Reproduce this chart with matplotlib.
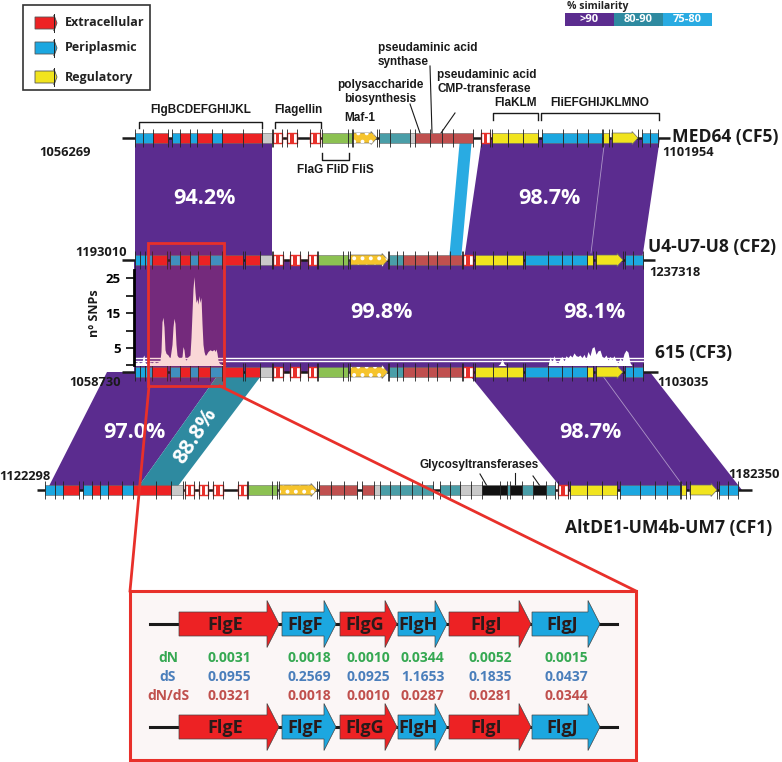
"""Flagellar gene cluster comparison between four clonal frames (CF1-CF5)."""
import matplotlib
matplotlib.use("Agg")
import matplotlib.pyplot as plt
from matplotlib.patches import Rectangle, Polygon

plt.rcParams["hatch.linewidth"] = 1.6

W, H = 782, 762

# Gene colours by class.
COL = {"E": "#ed2224", "P": "#1ca7e0", "R": "#f1e41e", "Y": "#f1e41e",
       "G": "#c9c9c9", "S": "#8cc152", "M": "#f6c42c", "T": "#4a9ea8",
       "B": "#c0504f", "K": "#111111"}
SIM = {">90": "#5b2c8f", "80-90": "#2e8aa0", "75-80": "#29abe2"}
RED = "#e8302a"

LAB = ["Open Sans", "DejaVu Sans"]
NAR = ["Liberation Sans Narrow", "Liberation Sans", "DejaVu Sans"]

# ---- data: genes per track (start, end, class) ----
MED64 = [(135, 143, "P"), (143, 153, "P"), (153, 168, "E"), (172, 180, "P"), (180, 190, "E"),
         (190, 197, "P"), (197, 212, "E"), (212, 222, "P"), (222, 243, "E"), (243, 262, "E"),
         (262, 272, "G"), (273, 282, "F"), (287, 297, "F"), (310, 320, "F"), (322, 348, "S"),
         (348, 352, "S"), (353, 377, "M"), (379, 390, "T"), (390, 410, "T"), (410, 415, "G"),
         (415, 430, "B"), (430, 442, "B"), (442, 453, "B"), (453, 473, "B"), (481, 490, "F"),
         (492, 508, "R"), (508, 523, "R"), (523, 538, "R"), (542, 563, "P"), (563, 577, "P"),
         (577, 588, "P"), (588, 602, "P"), (603, 609, "R"), (612, 638, "Y"), (642, 650, "P"),
         (650, 658, "P")]
U4 = [(135, 140, "P"), (140, 145, "P"), (145, 152, "P"), (152, 167, "E"), (170, 180, "P"),
      (180, 190, "E"), (190, 198, "P"), (198, 210, "E"), (210, 222, "P"), (222, 243, "E"),
      (245, 260, "E"), (260, 272, "G"), (273, 283, "F"), (290, 300, "F"), (308, 317, "F"),
      (318, 343, "S"), (343, 348, "S"), (350, 388, "M"), (389, 397, "T"), (397, 403, "T"),
      (403, 415, "B"), (415, 428, "B"), (428, 437, "B"), (437, 450, "B"), (450, 462, "B"),
      (463, 473, "F"), (475, 493, "R"), (493, 507, "R"), (507, 523, "R"), (525, 548, "P"),
      (548, 562, "P"), (562, 572, "P"), (572, 587, "P"), (587, 593, "R"), (596, 623, "Y"),
      (625, 633, "P"), (633, 643, "P")]
CF3 = list(U4)
ALT = [(45, 55, "P"), (55, 63, "P"), (63, 79, "E"), (83, 92, "P"), (92, 100, "E"), (100, 108, "P"),
       (108, 122, "E"), (122, 133, "P"), (133, 156, "E"), (156, 171, "E"), (171, 183, "G"),
       (185, 194, "F"), (199, 208, "F"), (213, 223, "F"), (238, 247, "F"), (248, 272, "S"),
       (272, 277, "S"), (279, 317, "M"), (319, 331, "B"), (331, 344, "B"), (344, 357, "B"),
       (362, 374, "B"), (374, 380, "G"), (380, 390, "T"), (390, 400, "T"), (400, 412, "T"),
       (412, 422, "T"), (422, 433, "T"), (440, 450, "T"), (450, 460, "T"), (460, 471, "G"),
       (471, 482, "G"), (482, 500, "K"), (500, 507, "K"), (507, 510, "T"), (510, 522, "K"),
       (522, 533, "T"), (533, 546, "K"), (546, 555, "T"), (558, 568, "F"), (570, 587, "R"),
       (587, 602, "R"), (602, 617, "R"), (620, 640, "P"), (640, 655, "P"), (655, 667, "P"),
       (667, 680, "P"), (681, 686, "R"), (690, 717, "Y"), (719, 728, "P"), (728, 738, "P")]

# ---- data: SNP counts along CF2/CF3 alignment ----
SNP_X = [134, 136, 138, 140, 142, 143, 144, 145, 146, 148, 150, 152, 154, 156, 158, 160, 161,
         162, 163, 164, 165, 166, 168, 170, 171, 172, 173, 174, 175, 176, 177, 178, 180, 182,
         183, 184, 185, 186, 188, 190, 191, 192, 193, 194, 195, 196, 197, 198, 199, 200, 201,
         202, 203, 204, 205, 206, 208, 210, 212, 214, 215, 216, 217, 218, 219, 220, 222, 224,
         226, 498, 500, 502, 504, 506, 548, 550, 552, 554, 556, 558, 560, 562, 564, 566, 568,
         570, 572, 574, 576, 578, 580, 582, 584, 586, 588, 590, 592, 594, 596, 598, 600, 602,
         604, 606, 608, 610, 612, 614, 616, 618, 620, 622, 624, 626, 628, 630, 632]
SNP_N = [1.0, 0.8, 1.2, 0.8, 1.0, 2.5, 3.0, 1.0, 0.6, 0.8, 1.0, 0.8, 1.2, 0.8, 1.0, 1.5, 4.0,
         12.5, 13.8, 11.0, 4.5, 3.5, 3.0, 2.0, 4.0, 6.0, 11.0, 13.5, 12.0, 6.0, 3.0, 2.5, 2.0, 2.5,
         5.4, 4.5, 2.0, 1.5, 2.5, 3.0, 8.0, 15.0, 22.0, 25.4, 21.0, 18.0, 19.0, 17.5, 20.0, 18.0,
         19.5, 12.0, 6.0, 4.0, 3.0, 3.0, 4.0, 4.5, 4.2, 4.6, 4.0, 4.7, 3.5, 1.5, 0.8, 0.5, 0.3,
         0.2, 0.0, 0.0, 0.5, 1.8, 0.5, 0.0, 0.0, 2.5, 1.0, 2.8, 1.0, 0.8, 2.0, 2.6, 1.2, 2.8, 2.2,
         3.0, 2.4, 3.6, 2.8, 2.6, 3.0, 2.2, 3.2, 1.8, 4.0, 2.8, 5.0, 5.4, 3.2, 4.2, 4.4, 2.6,
         2.2, 3.0, 1.6, 2.6, 1.8, 2.8, 1.4, 0.8, 2.2, 1.2, 3.4, 4.4, 3.8, 0.8, 0.0]

# ---- data: inset FlgE-FlgJ selection values ----
INSET_NAMES = ["FlgE", "FlgF", "FlgG", "FlgH", "FlgI", "FlgJ"]
INSET_START = [179, 282, 340, 398, 449, 532]
INSET_END = [279, 336, 397, 447, 531, 600]
INSET_KIND = ["E", "P", "E", "P", "E", "P"]
DN = [0.0031, 0.0018, 0.0010, 0.0344, 0.0052, 0.0015]
DS = [0.0955, 0.2569, 0.0925, 1.1653, 0.1835, 0.0437]
DNDS = [0.0321, 0.0018, 0.0010, 0.0287, 0.0281, 0.0344]

fig = plt.figure(figsize=(W / 100, H / 100), dpi=100)
ax = fig.add_axes([0, 0, 1, 1])
ax.set_xlim(0, W)
ax.set_ylim(H, 0)
ax.axis("off")


def band(pts, color, label=None, at=None, rot=0):
    ax.add_patch(Polygon(pts, closed=True, fc=color, ec="none", zorder=1))
    if label:
        ax.text(at[0], at[1], label, color="white", fontsize=15.5, fontweight="bold",
                family=LAB, ha="center", va="center", rotation=rot, zorder=6)


def arrow_pts(s, e, y, h, hh, head):
    return [(s, y - h), (e - head, y - h), (e - head, y - hh), (e, y),
            (e - head, y + hh), (e - head, y + h), (s, y + h)]


def track(genes, y, x0, x1):
    ax.plot([x0, x1], [y, y], color="#1a1a1a", lw=1.8, zorder=3, solid_capstyle="butt")
    h = 5
    edges = set()
    for s, e, k in genes:
        if k == "F":
            ax.add_patch(Rectangle((s, y - h), e - s, 2 * h, fc="white", ec=RED, lw=1.0, zorder=4))
            m = (s + e) / 2
            ax.add_patch(Rectangle((m - 1.6, y - h), 3.2, 2 * h, fc=RED, ec="none", zorder=4))
        elif k in ("M", "Y"):
            pts = arrow_pts(s, e, y, h, h + 1.5, 6)
            ax.add_patch(Polygon(pts, closed=True, fc=COL[k], ec="#6a6a6a", lw=0.5, zorder=4))
            if k == "M":
                ax.add_patch(Polygon(pts, closed=True, fill=False, ec="white", lw=0,
                                     hatch="..", zorder=4.1))
        else:
            ax.add_patch(Rectangle((s, y - h), e - s, 2 * h, fc=COL[k], ec="#6a6a6a",
                                   lw=0.4, zorder=4))
        edges.update([s, e])
    ax.vlines(sorted(edges), y - 9, y + 9, color="#222222", lw=0.6, zorder=5)


# ---- similarity bands ----
band([(135, 138), (272, 138), (272, 260), (135, 260)], SIM[">90"], "94.2%", (204, 198))
band([(460, 138), (472, 138), (461, 260), (449, 260)], SIM["75-80"])
band([(482, 138), (660, 138), (642, 260), (464, 260)], SIM[">90"], "98.7%", (549, 198))
ax.plot([604, 591], [146, 253], color="white", lw=0.6, alpha=0.5, zorder=2)
band([(134, 260), (644, 260), (644, 372), (134, 372)], SIM[">90"])
ax.text(381, 313, "99.8%", color="white", fontsize=15.5, fontweight="bold", family=LAB,
        ha="center", va="center", zorder=6)
ax.text(594, 313, "98.1%", color="white", fontsize=15.5, fontweight="bold", family=LAB,
        ha="center", va="center", zorder=6)
band([(107, 372), (220, 372), (136, 490), (47, 490)], SIM[">90"], "97.0%", (134, 432))
band([(220, 372), (264, 372), (175, 490), (136, 490)], SIM["80-90"], "88.8%", (196, 436), 57)
band([(467, 372), (650, 372), (742, 490), (563, 490)], SIM[">90"], "98.7%", (590, 433))
ax.plot([600, 686], [372, 490], color="white", lw=0.6, alpha=0.5, zorder=2)

# ---- gene tracks ----
track(MED64, 138, 122, 670)
track(U4, 260, 122, 655)
track(CF3, 372, 122, 658)
track(ALT, 490, 37, 752)

# track names and coordinates
for x, y, name in [(672, 137, "MED64 (CF5)"), (648, 247, "U4-U7-U8 (CF2)"),
                   (655, 353, "615 (CF3)"), (565, 528, "AltDE1-UM4b-UM7 (CF1)")]:
    ax.text(x, y, name, fontsize=12.6, fontweight="bold", family=LAB, color="#1a1a1a",
            ha="left", va="center", zorder=6)
for x, y, c in [(65, 152, "1056269"), (688, 153, "1101954"), (101, 253, "1193010"),
                (675, 273, "1237318"), (95, 382, "1058730"), (683, 382, "1103035"),
                (25, 477, "1122298"), (754, 475, "1182350")]:
    ax.text(x, y, c, fontsize=9.3, fontweight="bold", family=LAB, color="#1a1a1a",
            ha="center", va="center", zorder=6)


# ---- annotations above MED64 ----
def bracket(x0, x1, y, leg, label, ly):
    ax.plot([x0, x0, x1, x1], [y + leg, y, y, y + leg], color="#1a1a1a", lw=1.0, zorder=5)
    ax.text((x0 + x1) / 2, ly, label, fontsize=8.5, fontweight="bold", family=NAR,
            ha="center", va="center", color="#1a1a1a")


bracket(139, 262, 122, 6, "FlgBCDEFGHIJKL", 110)
bracket(275, 321, 122, 6, "Flagellin", 110)
bracket(493, 538, 113, 7, "FlaKLM", 103)
bracket(541, 659, 113, 7, "FliEFGHIJKLMNO", 103)
bracket(322, 349, 160, -7, "FlaG FliD FliS", 170)

ann = dict(fontsize=8.5, fontweight="bold", family=NAR, color="#1a1a1a", linespacing=1.2)
ax.text(380, 92, "polysaccharide\nbiosynthesis", ha="center", va="center", **ann)
ax.plot([410, 420], [104, 133], color="#1a1a1a", lw=0.8)
ax.text(360, 118, "Maf-1", ha="center", va="center", **ann)
ax.text(378, 55, "pseudaminic acid\nsynthase", ha="left", va="center", **ann)
ax.plot([430, 432], [66, 133], color="#1a1a1a", lw=0.8)
ax.text(437, 82, "pseudaminic acid\nCMP-transferase", ha="left", va="center", **ann)
ax.plot([455, 441], [113, 133], color="#1a1a1a", lw=0.8)
ax.text(479, 465, "Glycosyltransferases", ha="center", va="center", **ann)
for xa, ya, xb, yb in [(480, 474, 487, 486), (515, 473, 515, 486), (533, 476, 540, 486)]:
    ax.plot([xa, xb], [ya, yb], color="#1a1a1a", lw=0.8)

# ---- legends ----
ax.add_patch(Rectangle((23, 5), 127, 85, fc="white", ec="#333333", lw=1.2, zorder=6))
for y, k, name in [(23, "E", "Extracellular"), (48, "P", "Periplasmic"), (77, "R", "Regulatory")]:
    ax.add_patch(Polygon(arrow_pts(35, 57, y, 6, 8, 3), closed=True, fc=COL[k], ec="#555555",
                         lw=0.6, zorder=7))
    ax.plot([54, 54], [y - 9, y + 9], color="#222222", lw=0.7, zorder=7)
    ax.text(65, y, name, fontsize=9, fontweight="bold", family=LAB, color="#222222",
            ha="left", va="center", zorder=7)

ax.text(567, 7, "% similarity", fontsize=7.5, fontweight="bold", family=LAB, ha="left",
        va="center", color="#222222")
for i, key in enumerate(SIM):
    ax.add_patch(Rectangle((565 + 49 * i, 13), 49, 13, fc=SIM[key], ec="none"))
    ax.text(565 + 49 * i + 24.5, 19.5, key, fontsize=8, fontweight="bold", family=LAB,
            color="white", ha="center", va="center")

# ---- SNP profile ----
snp = fig.add_axes([134 / W, 1 - 365.5 / H, (645 - 134) / W, 95.5 / H])
snp.set_xlim(134, 645)
snp.set_ylim(0, 27.3)
snp.patch.set_alpha(0)
for sp in ["top", "right", "bottom"]:
    snp.spines[sp].set_visible(False)
snp.spines["left"].set_linewidth(2.0)
snp.fill_between(SNP_X, SNP_N, color="white", lw=0)
snp.hlines([1.3, 2.1], 134, 645, color="white", lw=1.0)
snp.set_xticks([])
snp.set_yticks([5, 15, 25])
snp.set_yticks([0, 10, 20], minor=True)
snp.tick_params(axis="y", which="both", length=6, width=1.3, color="#1a1a1a")
snp.tick_params(axis="y", labelsize=9.5)
for t in snp.get_yticklabels():
    t.set_fontweight("bold")
    t.set_family(LAB)
ax.text(95, 313, "nº SNPs", rotation=90, fontsize=9, fontweight="bold", family=LAB,
        ha="center", va="center", color="#1a1a1a")

# highlight box over the FlgE-FlgJ region (drawn above the SNP axes)
fig.add_artist(Rectangle((148, 243), 76, 143, fc=(0.9, 0.15, 0.15, 0.18), ec=RED, lw=2,
                         transform=ax.transData, zorder=5))

# ---- inset ----
ax.plot([149, 130], [386, 591], color=RED, lw=2, zorder=7)
ax.plot([220, 636], [386, 591], color=RED, lw=2, zorder=7)
ax.add_patch(Rectangle((130, 591), 506, 169, fc="#fbf6f6", ec=RED, lw=2.2, zorder=7))
for yc in (624, 727):
    ax.plot([150, 617], [yc, yc], color="#1a1a1a", lw=2.2, zorder=8)
    for name, s, e, k in zip(INSET_NAMES, INSET_START, INSET_END, INSET_KIND):
        ax.add_patch(Polygon(arrow_pts(s, e, yc, 12, 23.5, 12), closed=True, fc=COL[k],
                             ec="#444444", lw=0.5, zorder=9))
        ax.text((s + e) / 2 - 4, yc + 1, name, fontsize=13, fontweight="bold", family=LAB,
                color="#2a1a1a", ha="center", va="center", zorder=10)

for y, lab, vals, c in [(658, "dN", DN, "#35a852"), (677, "dS", DS, "#4a7ebb"),
                        (696, "dN/dS", DNDS, "#c0504d")]:
    ax.text(168, y, lab, fontsize=10, fontweight="bold", family=LAB, color=c,
            ha="center", va="center", zorder=10)
    for s, e, v in zip(INSET_START, INSET_END, vals):
        ax.text((s + e) / 2, y, f"{v:.4f}", fontsize=10, fontweight="bold", family=LAB,
                color=c, ha="center", va="center", zorder=10)

fig.savefig("out.png", dpi=100)
